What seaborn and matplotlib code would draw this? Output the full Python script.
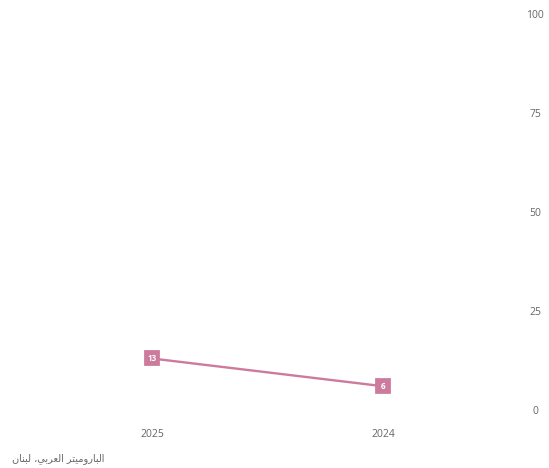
import matplotlib
matplotlib.use("Agg")
import matplotlib.pyplot as plt
import seaborn as sns
import pandas as pd

years = ["2024", "2025"]
values = [6, 13]
year_order = ["2025", "2024"]  # right-to-left layout
y_ticks = [0, 25, 50, 75, 100]
source = "الباروميتر العربي، لبنان"

line_color = "#cc7b9d"
text_color = "#666666"

# Minimal contextual shaping for Arabic (matplotlib has no text shaping)
FORMS = {
    "\u0627": ("\uFE8D", "\uFE8E", None, None),
    "\u0644": ("\uFEDD", "\uFEDE", "\uFEDF", "\uFEE0"),
    "\u0628": ("\uFE8F", "\uFE90", "\uFE91", "\uFE92"),
    "\u0631": ("\uFEAD", "\uFEAE", None, None),
    "\u0648": ("\uFEED", "\uFEEE", None, None),
    "\u0645": ("\uFEE1", "\uFEE2", "\uFEE3", "\uFEE4"),
    "\u064A": ("\uFEF1", "\uFEF2", "\uFEF3", "\uFEF4"),
    "\u062A": ("\uFE95", "\uFE96", "\uFE97", "\uFE98"),
    "\u0639": ("\uFEC9", "\uFECA", "\uFECB", "\uFECC"),
    "\u0646": ("\uFEE5", "\uFEE6", "\uFEE7", "\uFEE8"),
}


def shape_arabic(s):
    out = []
    for i, ch in enumerate(s):
        if ch not in FORMS:
            out.append(ch)
            continue
        prev = s[i - 1] if i > 0 else None
        nxt = s[i + 1] if i + 1 < len(s) else None
        join_prev = prev in FORMS and FORMS[prev][2] is not None
        join_next = FORMS[ch][2] is not None and nxt in FORMS
        iso, fin, ini, med = FORMS[ch]
        if join_prev and join_next:
            out.append(med)
        elif join_prev:
            out.append(fin)
        elif join_next:
            out.append(ini)
        else:
            out.append(iso)
    return "".join(out)[::-1]


sns.set_theme(style="white")
plt.rcParams["font.family"] = ["Open Sans", "DejaVu Sans"]

df = pd.DataFrame({"year": years, "value": values})

fig = plt.figure(figsize=(5.49, 4.68), dpi=100)
ax = fig.add_axes([0.0665, 0.124, 0.8415, 0.846])

sns.pointplot(data=df, x="year", y="value", order=year_order, color=line_color,
              markers="s", markersize=10, linewidth=1.7, ax=ax, zorder=3)

for _, row in df.iterrows():
    xpos = year_order.index(row["year"])
    ax.text(xpos, row["value"], f"{row['value']}", ha="center", va="center",
            color="white", fontsize=5.8, fontweight="bold", zorder=5)

ax.set_ylim(0, 100)
ax.set_xlim(-0.5, 1.5)
ax.set_yticks(y_ticks)
ax.yaxis.tick_right()
ax.tick_params(axis="both", length=0, labelsize=7.5, colors=text_color)
ax.tick_params(axis="y", pad=26.3)
ax.tick_params(axis="x", pad=14)
for lab in ax.get_yticklabels():
    lab.set_horizontalalignment("center")
ax.set_xlabel("")
ax.set_ylabel("")
for sp in ax.spines.values():
    sp.set_visible(False)

fig.text(12 / 549, 1 - 459 / 468, shape_arabic(source), ha="left", va="center",
         fontsize=7, color=text_color, family=["DejaVu Sans"])

fig.savefig("out.png", dpi=100)
